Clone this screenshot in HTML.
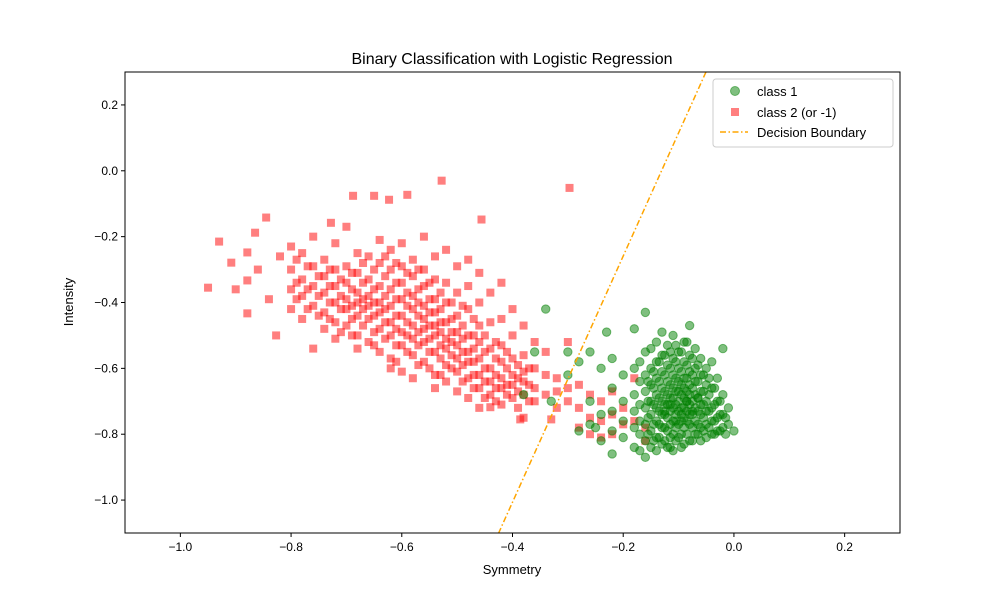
<!DOCTYPE html>
<html><head><meta charset="utf-8"><style>
html,body{margin:0;padding:0;background:#fff;}
svg text{font-family:"Liberation Sans","DejaVu Sans",sans-serif;fill:#000;}
</style></head><body>
<svg id="chart" width="1000" height="600" viewBox="0 0 1000 600" xmlns="http://www.w3.org/2000/svg">
<rect width="1000" height="600" fill="#fff"/>
<text x="512" y="64" font-size="16" text-anchor="middle">Binary Classification with Logistic Regression</text>
<g id="marks"></g>
<rect x="125" y="72" width="775" height="461" fill="none" stroke="#000" stroke-width="1"/>
<g id="axes"></g>
<text x="512" y="574" font-size="13" text-anchor="middle">Symmetry</text>
<text x="73" y="302" font-size="13" text-anchor="middle" transform="rotate(-90 73 302)">Intensity</text>
<g>
<rect x="713" y="79" width="180" height="68" rx="3" fill="#fff" fill-opacity="0.8" stroke="#ccc"/>
<circle cx="735" cy="91" r="4.5" fill="green" fill-opacity="0.5" stroke="green" stroke-opacity="0.5"/>
<text x="757" y="96" font-size="13">class 1</text>
<rect x="731" y="108" width="8" height="8" fill="red" fill-opacity="0.5"/>
<text x="757" y="117" font-size="13">class 2 (or -1)</text>
<line x1="720" y1="132" x2="748" y2="132" stroke="orange" stroke-width="1.5" stroke-dasharray="6,2.5,1.5,2.5"/>
<text x="757" y="137" font-size="13">Decision Boundary</text>
</g>
</svg>
<script>
const xDomain=[-1.1,0.3], yDomain=[-1.1,0.3];
const xTicks=[-1.0,-0.8,-0.6,-0.4,-0.2,0.0,0.2];
const xTickLabels=["−1.0","−0.8","−0.6","−0.4","−0.2","0.0","0.2"];
const yTicks=[0.2,0.0,-0.2,-0.4,-0.6,-0.8,-1.0];
const yTickLabels=["0.2","0.0","−0.2","−0.4","−0.6","−0.8","−1.0"];
const boundaryX=[-0.0505,-0.425];
const boundaryY=[0.3,-1.1];
const redColX=[-0.80,-0.78,-0.76,-0.74,-0.72,-0.70,-0.68,-0.66,-0.64,-0.62,-0.60,-0.58,-0.56,-0.54,-0.52,-0.50,-0.48,-0.46,-0.44,-0.42,-0.40,-0.38,-0.36,-0.34,-0.32,-0.30,-0.28,-0.26,-0.24,-0.22,-0.20,-0.18,-0.16];
const redColY=[
[-0.23,-0.30,-0.36,-0.42],[-0.25,-0.33,-0.38,-0.45],[-0.20,-0.29,-0.35,-0.41,-0.54],[-0.27,-0.32,-0.37,-0.43,-0.48],
[-0.22,-0.30,-0.35,-0.40,-0.46,-0.51],[-0.17,-0.29,-0.34,-0.39,-0.42,-0.47],[-0.25,-0.31,-0.37,-0.40,-0.44,-0.50,-0.54],
[-0.26,-0.33,-0.38,-0.41,-0.45,-0.52],[-0.21,-0.28,-0.35,-0.40,-0.43,-0.48,-0.55],[-0.24,-0.30,-0.36,-0.41,-0.46,-0.50,-0.57,-0.60],
[-0.22,-0.29,-0.34,-0.39,-0.44,-0.49,-0.53,-0.61],[-0.27,-0.32,-0.38,-0.42,-0.47,-0.51,-0.56,-0.63],[-0.20,-0.30,-0.35,-0.41,-0.45,-0.48,-0.52,-0.58],
[-0.26,-0.33,-0.39,-0.43,-0.47,-0.50,-0.55,-0.62,-0.66],[-0.24,-0.34,-0.40,-0.46,-0.51,-0.54,-0.59,-0.64],[-0.29,-0.37,-0.44,-0.49,-0.53,-0.57,-0.61,-0.67],
[-0.27,-0.35,-0.42,-0.50,-0.55,-0.58,-0.63,-0.69],[-0.31,-0.40,-0.47,-0.52,-0.57,-0.62,-0.66,-0.72],[-0.37,-0.46,-0.54,-0.60,-0.64,-0.68],
[-0.34,-0.45,-0.53,-0.58,-0.63,-0.66,-0.71],[-0.42,-0.50,-0.57,-0.62,-0.65,-0.69],[-0.47,-0.56,-0.61,-0.64,-0.68,-0.75],
[-0.52,-0.60,-0.66,-0.70],[-0.55,-0.62,-0.68],[-0.63,-0.67,-0.72],[-0.52,-0.66,-0.70],[-0.65,-0.72,-0.78],[-0.68,-0.75,-0.80],
[-0.70,-0.76,-0.81],[-0.67,-0.74,-0.80],[-0.72,-0.77],[-0.63,-0.76],[-0.78,-0.82]];
const redCol2X=[-0.79,-0.77,-0.75,-0.73,-0.71,-0.69,-0.67,-0.65,-0.63,-0.61,-0.59,-0.57,-0.55,-0.53,-0.51,-0.49,-0.47,-0.45,-0.43,-0.41,-0.39,-0.37];
const redCol2Y=[
[-0.27,-0.34,-0.39],[-0.29,-0.36,-0.42],[-0.32,-0.38,-0.44],[-0.30,-0.35,-0.40,-0.45],[-0.33,-0.38,-0.42,-0.49],
[-0.31,-0.36,-0.41,-0.45,-0.50],[-0.28,-0.34,-0.39,-0.42,-0.47],[-0.30,-0.36,-0.40,-0.44,-0.49,-0.53],[-0.26,-0.32,-0.38,-0.42,-0.46,-0.51],
[-0.28,-0.34,-0.39,-0.44,-0.48,-0.53,-0.58],[-0.31,-0.37,-0.41,-0.46,-0.50,-0.55],[-0.30,-0.36,-0.40,-0.44,-0.49,-0.53,-0.59],
[-0.34,-0.39,-0.43,-0.47,-0.51,-0.55,-0.60],[-0.37,-0.42,-0.46,-0.49,-0.53,-0.57,-0.62],[-0.40,-0.45,-0.49,-0.52,-0.56,-0.60],
[-0.41,-0.47,-0.51,-0.55,-0.59,-0.64],[-0.45,-0.50,-0.54,-0.58,-0.62,-0.66],[-0.50,-0.55,-0.60,-0.64,-0.69],
[-0.52,-0.57,-0.62,-0.66,-0.70],[-0.55,-0.60,-0.65,-0.68],[-0.59,-0.63,-0.67,-0.72],[-0.60,-0.65,-0.70]];
const redExtraX=[-0.95,-0.93,-0.908,-0.879,-0.879,-0.879,-0.845,-0.865,-0.827,-0.688,-0.65,-0.623,-0.59,-0.528,-0.297,-0.728,-0.456,-0.386,-0.33,-0.44,-0.86,-0.84,-0.82,-0.90];
const redExtraY=[-0.355,-0.215,-0.279,-0.248,-0.333,-0.433,-0.142,-0.188,-0.5,-0.076,-0.076,-0.088,-0.073,-0.03,-0.052,-0.158,-0.148,-0.755,-0.755,-0.718,-0.30,-0.39,-0.26,-0.36];
const greenColX=[-0.30,-0.28,-0.26,-0.24,-0.22,-0.20,-0.18,-0.17,-0.16,-0.15,-0.14,-0.13,-0.12,-0.11,-0.10,-0.09,-0.08,-0.07,-0.06,-0.05,-0.04,-0.03,-0.02,-0.01,0.00];
const greenColY=[
[-0.55,-0.62],[-0.58,-0.79],[-0.55,-0.70,-0.77],[-0.60,-0.74,-0.82],[-0.57,-0.66,-0.73,-0.79,-0.86],[-0.62,-0.70,-0.76,-0.81],
[-0.48,-0.60,-0.68,-0.73,-0.78,-0.84],[-0.58,-0.64,-0.71,-0.76,-0.80,-0.85],[-0.43,-0.55,-0.62,-0.67,-0.72,-0.77,-0.82,-0.87],
[-0.54,-0.60,-0.65,-0.70,-0.74,-0.79,-0.84],[-0.52,-0.58,-0.63,-0.68,-0.72,-0.76,-0.81,-0.85],[-0.49,-0.56,-0.61,-0.66,-0.70,-0.74,-0.78,-0.83],
[-0.53,-0.59,-0.64,-0.68,-0.71,-0.75,-0.79,-0.84],[-0.50,-0.57,-0.62,-0.66,-0.69,-0.72,-0.76,-0.80,-0.85],[-0.55,-0.60,-0.64,-0.67,-0.70,-0.73,-0.77,-0.81],
[-0.52,-0.58,-0.63,-0.66,-0.69,-0.72,-0.75,-0.78,-0.83],[-0.47,-0.56,-0.61,-0.65,-0.68,-0.71,-0.74,-0.77,-0.82],[-0.54,-0.60,-0.64,-0.68,-0.72,-0.76,-0.80],
[-0.57,-0.62,-0.67,-0.71,-0.74,-0.78,-0.82],[-0.60,-0.65,-0.70,-0.73,-0.77,-0.81],[-0.58,-0.66,-0.72,-0.76,-0.80],[-0.63,-0.70,-0.75,-0.79],
[-0.54,-0.68,-0.74,-0.78],[-0.72,-0.77],[-0.79]];
const greenCol2X=[-0.155,-0.145,-0.135,-0.125,-0.115,-0.105,-0.095,-0.085,-0.075,-0.065,-0.055,-0.045,-0.035,-0.025,-0.015];
const greenCol2Y=[
[-0.64,-0.70,-0.75,-0.80],[-0.61,-0.66,-0.71,-0.77,-0.82],[-0.58,-0.64,-0.69,-0.73,-0.77,-0.81],[-0.56,-0.62,-0.67,-0.71,-0.74,-0.78,-0.82],
[-0.55,-0.60,-0.65,-0.69,-0.73,-0.77,-0.81,-0.84],[-0.53,-0.58,-0.63,-0.67,-0.71,-0.74,-0.78,-0.82],[-0.55,-0.61,-0.65,-0.68,-0.72,-0.76,-0.80,-0.84],
[-0.52,-0.59,-0.63,-0.67,-0.70,-0.73,-0.76,-0.80],[-0.57,-0.62,-0.66,-0.70,-0.74,-0.78,-0.82],[-0.59,-0.64,-0.69,-0.73,-0.77,-0.80],
[-0.62,-0.67,-0.71,-0.75,-0.79],[-0.63,-0.68,-0.73,-0.78],[-0.66,-0.71,-0.76,-0.80],[-0.70,-0.74,-0.79],[-0.75,-0.80]];
const greenExtraX=[-0.34,-0.36,-0.33,-0.38,-0.23,-0.25,-0.115,-0.095,-0.085,-0.075,-0.065,-0.105,-0.125];
const greenExtraY=[-0.42,-0.55,-0.70,-0.68,-0.49,-0.78,-0.71,-0.74,-0.70,-0.73,-0.69,-0.76,-0.73];

const L=125,R=900,T=72,B=533,NS="http://www.w3.org/2000/svg";
const sx=v=>L+(v-xDomain[0])/(xDomain[1]-xDomain[0])*(R-L);
const sy=v=>B-(v-yDomain[0])/(yDomain[1]-yDomain[0])*(B-T);
const marks=document.getElementById('marks'),axes=document.getElementById('axes');
function mk(tag,attrs,parent){const e=document.createElementNS(NS,tag);for(const k in attrs)e.setAttribute(k,attrs[k]);parent.appendChild(e);return e;}
const clip=mk('clipPath',{id:'pc'},marks);mk('rect',{x:L,y:T,width:R-L,height:B-T},clip);
const g=mk('g',{'clip-path':'url(#pc)'},marks);
function red(x,y){const e=mk('rect',{x:sx(x)-4,y:sy(y)-4,width:8,height:8,fill:'red','fill-opacity':0.5},g);

}
function green(x,y){const e=mk('circle',{cx:sx(x),cy:sy(y),r:4.2,fill:'green','fill-opacity':0.5,stroke:'green','stroke-opacity':0.5},g);

}
redColX.forEach((x,i)=>redColY[i].forEach(y=>red(x,y)));
redCol2X.forEach((x,i)=>redCol2Y[i].forEach(y=>red(x,y)));
redExtraX.forEach((x,i)=>red(x,redExtraY[i]));
greenColX.forEach((x,i)=>greenColY[i].forEach(y=>green(x,y)));
greenCol2X.forEach((x,i)=>greenCol2Y[i].forEach(y=>green(x,y)));
greenExtraX.forEach((x,i)=>green(x,greenExtraY[i]));
const bl=mk('line',{x1:sx(boundaryX[0]),y1:sy(boundaryY[0]),x2:sx(boundaryX[1]),y2:sy(boundaryY[1]),stroke:'orange','stroke-width':1.5,'stroke-dasharray':'6,2.5,1.5,2.5'},g);


xTicks.forEach((v,i)=>{const x=sx(v);mk('line',{x1:x,x2:x,y1:B,y2:B+4,stroke:'#000'},axes);
const t=mk('text',{x:x,y:B+18,'font-size':12,'text-anchor':'middle'},axes);t.textContent=xTickLabels[i];

});
yTicks.forEach((v,i)=>{const y=sy(v);mk('line',{x1:L-4,x2:L,y1:y,y2:y,stroke:'#000'},axes);
const t=mk('text',{x:L-7,y:y+4,'font-size':12,'text-anchor':'end'},axes);t.textContent=yTickLabels[i];

});
</script>
</body></html>
